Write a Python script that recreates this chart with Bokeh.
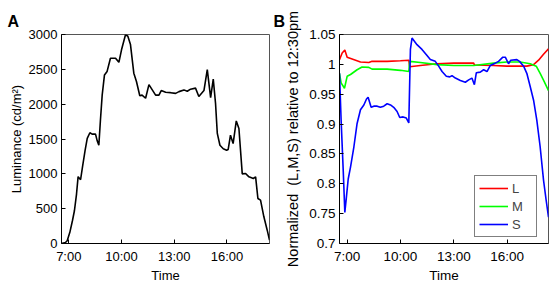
from bokeh.plotting import figure
from bokeh.layouts import row
from bokeh.models import FixedTicker, Range1d, Legend, LegendItem, Title
from bokeh.embed import file_html
from bokeh.resources import INLINE

FONT = "Liberation Sans"

# ---- Panel A: luminance over the day (hours as decimals) ----
lum_time = [6.585, 6.81, 6.91, 7.06, 7.21, 7.32, 7.44, 7.53, 7.67, 7.78, 7.93, 8.05,
            8.2, 8.33, 8.52, 8.61, 8.71, 8.8, 8.9, 9.03, 9.18, 9.37, 9.66, 9.85,
            10.0, 10.23, 10.36, 10.51, 10.7, 10.85, 11.04, 11.17, 11.37, 11.56, 11.75,
            11.94, 12.13, 12.26, 12.51, 12.79, 13.08, 13.27, 13.55, 13.74, 13.93,
            14.21, 14.4, 14.69, 14.88, 15.07, 15.22, 15.35, 15.45, 15.6, 15.79,
            15.98, 16.07, 16.2, 16.35, 16.53, 16.68, 16.87, 17.06, 17.25, 17.5,
            17.63, 17.76, 17.91, 18.1, 18.29, 18.42]
lum_value = [0, 15, 40, 160, 330, 470, 710, 960, 915, 1100, 1340, 1510,
             1590, 1570, 1570, 1480, 1410, 1770, 2130, 2420, 2470, 2660, 2660, 2600,
             2780, 3000, 2975, 2855, 2445, 2325, 2120, 2130, 2085, 2280, 2205,
             2130, 2130, 2195, 2170, 2165, 2155, 2180, 2205, 2185, 2215,
             2230, 2110, 2195, 2495, 2095, 2360, 2010, 1580, 1410, 1360,
             1340, 1350, 1555, 1435, 1760, 1650, 1000, 1005, 957, 933,
             957, 646, 622, 383, 191, 48]

# ---- Panel B: normalized cone responses ----
L_time = [6.57, 6.72, 6.87, 7.0, 7.28, 7.75, 8.22, 8.4, 9.25, 10.0, 10.47, 10.52,
          11.12, 12.06, 13.0, 14.12, 14.16, 15.24, 15.99, 17.11, 17.49, 17.77,
          18.05, 18.33]
L_value = [1.008, 1.019, 1.024, 1.012, 1.009, 1.004, 1.003, 1.005, 1.005, 1.006,
           1.007, 0.996, 0.998, 1.001, 1.002, 1.002, 0.999, 0.998, 0.997, 0.997,
           0.9995, 1.007, 1.017, 1.026]

M_time = [6.57, 6.66, 6.85, 7.0, 7.19, 7.56, 7.84, 8.22, 8.4, 9.25, 10.0, 10.47,
          10.52, 11.12, 12.06, 13.0, 14.12, 15.24, 15.99, 16.74, 17.3, 17.64,
          17.86, 18.09, 18.33]
M_value = [0.985, 0.969, 0.960, 0.980, 0.983, 0.991, 0.9955, 0.995, 0.992, 0.992,
           0.990, 0.988, 1.005, 1.003, 0.9995, 0.998, 0.998, 1.002, 1.004, 1.004,
           1.001, 0.997, 0.985, 0.971, 0.956]

S_time = [6.57, 6.66, 6.78, 6.87, 6.96, 7.06, 7.19, 7.38, 7.56, 7.75, 7.94, 8.09,
          8.18, 8.35, 8.5, 8.69, 8.87, 9.06, 9.25, 9.44, 9.62, 9.81, 9.96, 10.15,
          10.33, 10.47, 10.56, 10.65, 10.93, 11.21, 11.46, 11.68, 11.96, 12.15,
          12.34, 12.58, 12.77, 12.9, 13.09, 13.37, 13.65, 13.84, 14.02, 14.16,
          14.27, 14.49, 14.68, 14.87, 15.05, 15.33, 15.52, 15.76, 15.9, 16.08,
          16.21, 16.55, 16.7, 16.93, 17.11, 17.3, 17.49, 17.67, 17.86, 18.05,
          18.2, 18.33]
S_value = [0.985, 0.907, 0.822, 0.752, 0.778, 0.808, 0.828, 0.862, 0.901, 0.924,
           0.932, 0.942, 0.945, 0.928, 0.930, 0.930, 0.928, 0.930, 0.934, 0.932,
           0.928, 0.921, 0.911, 0.912, 0.910, 0.902, 1.025, 1.044, 1.033, 1.025,
           1.016, 1.008, 1.005, 0.997, 0.988, 0.980, 0.979, 0.981, 0.977, 0.973,
           0.970, 0.974, 0.977, 0.966, 0.986, 0.987, 0.991, 0.988, 0.998, 1.002,
           1.005, 1.012, 1.012, 1.001, 1.007, 1.008, 1.005, 0.997, 0.985, 0.963,
           0.940, 0.907, 0.862, 0.806, 0.772, 0.744]

x_ticks = [7, 10, 13, 16]
x_tick_labels = {7: "7:00", 10: "10:00", 13: "13:00", 16: "16:00"}
a_y_ticks = [0, 500, 1000, 1500, 2000, 2500, 3000]
b_y_ticks = [0.7, 0.75, 0.8, 0.85, 0.9, 0.95, 1.0, 1.05]
b_y_tick_labels = {0.7: "0.7", 0.75: "0.75", 0.8: "0.8", 0.85: "0.85", 0.9: "0.9",
                   0.95: "0.95", 1.0: "1", 1.05: "1.05"}


def style(p, tick_size, y_label_size, label_standoff):
    p.grid.visible = False
    p.outline_line_color = "#555555"
    p.outline_line_width = 1
    for ax in (p.xaxis[0], p.yaxis[0]):
        ax.major_label_text_font = FONT
        ax.major_label_text_font_size = tick_size
        ax.major_label_text_color = "black"
        ax.axis_label_text_font = FONT
        ax.axis_label_text_font_size = tick_size
        ax.axis_label_text_font_style = "normal"
        ax.axis_label_text_color = "black"
        ax.major_tick_in = 4
        ax.major_tick_out = 0
        ax.minor_tick_line_color = None
        ax.axis_line_color = "black"
        ax.major_tick_line_color = "black"
    p.yaxis[0].axis_label_text_font_size = y_label_size
    p.xaxis[0].major_label_standoff = 5
    p.xaxis[0].axis_label_standoff = 1
    p.yaxis[0].major_label_standoff = 4
    p.yaxis[0].axis_label_standoff = label_standoff
    p.xaxis[0].ticker = FixedTicker(ticks=x_ticks)
    p.xaxis[0].major_label_overrides = x_tick_labels
    p.xaxis[0].axis_label = "Time"


def panel_title(text, offset):
    return Title(text=text, align="left", offset=offset, standoff=9,
                 text_font=FONT, text_font_size="16px", text_font_style="bold",
                 text_color="black")


# Panel A
pa = figure(width=272, height=289, output_backend="svg", toolbar_location=None,
            x_range=Range1d(6.585, 18.42), y_range=Range1d(0, 3000),
            min_border_left=61, min_border_right=3, min_border_top=34, min_border_bottom=46)
pa.title = panel_title("A", -54)
pa.line(lum_time, lum_value, line_color="black", line_width=1.6)
style(pa, "13px", "13px", 2)
pa.yaxis[0].ticker = FixedTicker(ticks=a_y_ticks)
pa.yaxis[0].axis_label = "Luminance (cd/m²)"

# Panel B
pb = figure(width=282, height=289, output_backend="svg", toolbar_location=None,
            x_range=Range1d(6.57, 18.33), y_range=Range1d(0.7, 1.05),
            min_border_left=67, min_border_right=6, min_border_top=34, min_border_bottom=46)
pb.title = panel_title("B", -66)
rL = pb.line(L_time, L_value, line_color="#ff0000", line_width=1.6)
rM = pb.line(M_time, M_value, line_color="#00ff00", line_width=1.6)
rS = pb.line(S_time, S_value, line_color="#0000ff", line_width=1.6)
style(pb, "13.5px", "14.5px", 5)
pb.yaxis[0].ticker = FixedTicker(ticks=b_y_ticks)
pb.yaxis[0].major_label_overrides = b_y_tick_labels
pb.yaxis[0].axis_label = "Normalized \u00a0(L,M,S) relative to 12:30pm"

legend = Legend(items=[LegendItem(label="L", renderers=[rL]),
                       LegendItem(label="M", renderers=[rM]),
                       LegendItem(label="S", renderers=[rS])],
                location=(135, 6), margin=0, padding=4, spacing=2,
                label_height=16, glyph_height=16, glyph_width=29, label_standoff=4,
                border_line_color="black", border_line_width=1,
                label_text_font=FONT, label_text_font_size="13px",
                background_fill_alpha=1.0)
pb.add_layout(legend)

layout = row(pa, pb)
open("out.html", "w").write(file_html(layout, INLINE))
